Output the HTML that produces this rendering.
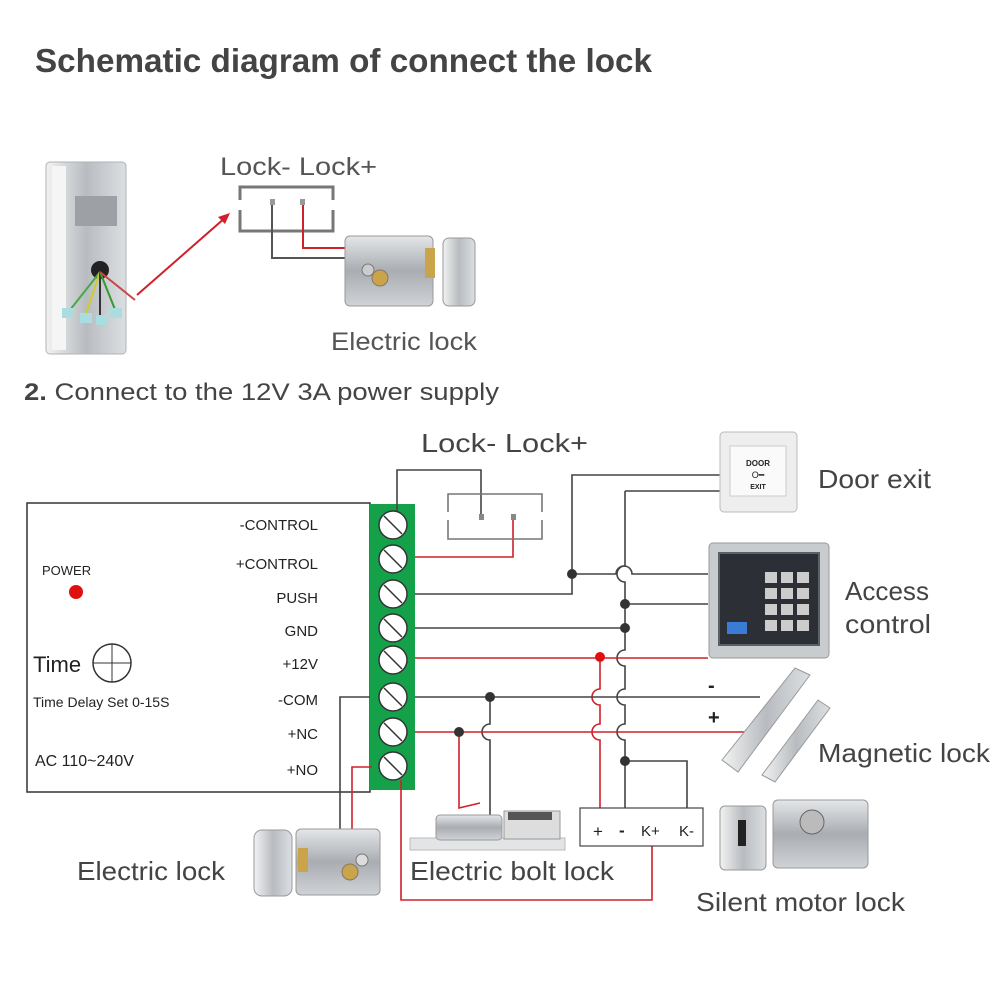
<!DOCTYPE html>
<html><head><meta charset="utf-8"><style>
html,body{margin:0;padding:0;background:#fff;}
svg{display:block;font-family:"Liberation Sans",Arial,sans-serif;}
</style></head><body>
<svg width="1000" height="1008" viewBox="0 0 1000 1008" xmlns="http://www.w3.org/2000/svg">
<defs>
<linearGradient id="steel" x1="0" y1="0" x2="0" y2="1"><stop offset="0" stop-color="#e4e6e8"/><stop offset="0.5" stop-color="#a9adb2"/><stop offset="1" stop-color="#d0d3d6"/></linearGradient>
<linearGradient id="steel2" x1="0" y1="0" x2="1" y2="0"><stop offset="0" stop-color="#f2f2f2"/><stop offset="0.5" stop-color="#b8bcc0"/><stop offset="1" stop-color="#dcdfe2"/></linearGradient>
</defs>
<text x="35" y="72" font-size="33" font-weight="bold" fill="#444" textLength="617" lengthAdjust="spacingAndGlyphs">Schematic diagram of connect the lock</text>

<!-- top device -->
<rect x="46" y="162" width="80" height="192" rx="4" fill="url(#steel2)" stroke="#b0b3b6"/>
<rect x="52" y="166" width="14" height="184" fill="#f5f5f5"/>
<rect x="75" y="196" width="42" height="30" fill="#9da1a5"/>
<circle cx="100" cy="270" r="9" fill="#222"/>
<g stroke-width="2"><line x1="100" y1="272" x2="70" y2="310" stroke="#4a4"/><line x1="100" y1="272" x2="86" y2="314" stroke="#cc3"/><line x1="100" y1="272" x2="100" y2="318" stroke="#333"/><line x1="100" y1="272" x2="116" y2="312" stroke="#393"/><line x1="100" y1="272" x2="135" y2="300" stroke="#c44"/></g>
<g fill="#a9dde0"><rect x="62" y="308" width="12" height="10"/><rect x="80" y="313" width="12" height="10"/><rect x="96" y="315" width="12" height="10"/><rect x="110" y="308" width="12" height="10"/></g>
<line x1="137" y1="295" x2="226" y2="217" stroke="#d0202a" stroke-width="2"/>
<polygon points="230,213 218,217 225,224" fill="#d0202a"/>
<text x="220" y="175" font-size="25" fill="#555" textLength="157" lengthAdjust="spacingAndGlyphs">Lock- Lock+</text>
<g stroke="#777" stroke-width="3" fill="none"><path d="M240 200 V187 H333 V200"/><path d="M240 210 V231 H333 V210"/></g>
<rect x="270" y="199" width="5" height="6" fill="#999"/><rect x="300" y="199" width="5" height="6" fill="#999"/>
<path d="M272 205 V258 H346" stroke="#555" stroke-width="2" fill="none"/>
<path d="M303 205 V248 H346" stroke="#d0202a" stroke-width="2" fill="none"/>
<rect x="345" y="236" width="88" height="70" rx="5" fill="url(#steel)" stroke="#999"/>
<circle cx="368" cy="270" r="6" fill="#ccc" stroke="#777"/><circle cx="380" cy="278" r="8" fill="#c9a44a" stroke="#876"/>
<rect x="425" y="248" width="10" height="30" fill="#c9a44a"/>
<rect x="443" y="238" width="32" height="68" rx="6" fill="url(#steel2)" stroke="#999"/>
<text x="331" y="350" font-size="25" fill="#555" textLength="146" lengthAdjust="spacingAndGlyphs">Electric lock</text>
<text x="24" y="400" font-size="24" fill="#444" textLength="475" lengthAdjust="spacingAndGlyphs"><tspan font-weight="bold">2.</tspan> Connect to the 12V 3A power supply</text>

<!-- controller -->
<rect x="27" y="503" width="343" height="289" fill="#fff" stroke="#333" stroke-width="1.5"/>
<rect x="370" y="504" width="45" height="286" fill="#15a04a"/>
<g font-size="15" fill="#222" text-anchor="end">
<text x="318" y="530">-CONTROL</text><text x="318" y="569">+CONTROL</text><text x="318" y="603">PUSH</text><text x="318" y="636">GND</text><text x="318" y="669">+12V</text><text x="318" y="705">-COM</text><text x="318" y="739">+NC</text><text x="318" y="775">+NO</text>
</g>
<text x="42" y="575" font-size="13" fill="#222">POWER</text>
<circle cx="76" cy="592" r="7" fill="#e01010"/>
<text x="33" y="672" font-size="22" fill="#222">Time</text>
<circle cx="112" cy="663" r="19" fill="none" stroke="#333" stroke-width="1.5"/><line x1="93" y1="663" x2="131" y2="663" stroke="#333"/><line x1="112" y1="644" x2="112" y2="682" stroke="#333"/>
<text x="33" y="707" font-size="14" fill="#222">Time Delay Set 0-15S</text>
<text x="35" y="766" font-size="16" fill="#222">AC 110~240V</text>

<!-- wires -->
<g fill="none" stroke-width="1.6">
<path d="M397 512 V470 H481 V517" stroke="#444"/>
<path d="M415 557 H513 V520" stroke="#d0202a"/>
<path d="M415 594 H572 V475 H720" stroke="#444"/>
<path d="M572 574 H616 A8 8 0 0 1 632 574 H708" stroke="#444"/>
<path d="M625 491 H720 M625 491 V566 A8 8 0 0 0 625 582 V650 A8 8 0 0 0 625 666 V689 A8 8 0 0 0 625 705 V724 A8 8 0 0 0 625 740 V810" stroke="#444"/>
<path d="M625 604 H708" stroke="#444"/>
<path d="M415 628 H625" stroke="#444"/>
<path d="M625 761 H687 V810" stroke="#444"/>
<path d="M415 658 H708" stroke="#d0202a"/>
<path d="M600 657 V689 A8 8 0 0 0 600 705 V724 A8 8 0 0 0 600 740 V810" stroke="#d0202a"/>
<path d="M415 697 H760" stroke="#444"/>
<path d="M490 697 V724 A8 8 0 0 0 490 740 V815" stroke="#444"/>
<path d="M370 697 H340 V840" stroke="#444"/>
<path d="M415 732 H760" stroke="#d0202a"/>
<path d="M459 732 V808 L480 803" stroke="#d0202a"/>
<path d="M372 767 H352 V840" stroke="#d0202a"/>
<path d="M401 780 V900 H652 V845" stroke="#d0202a"/>
</g>
<g fill="#333"><circle cx="572" cy="574" r="5"/><circle cx="625" cy="604" r="5"/><circle cx="625" cy="628" r="5"/><circle cx="490" cy="697" r="5"/><circle cx="459" cy="732" r="5"/><circle cx="625" cy="761" r="5"/></g>
<circle cx="600" cy="657" r="5" fill="#e01010"/>
<!-- screws -->
<g stroke="#333" stroke-width="1.5">
<g fill="#fff"><circle cx="393" cy="525" r="14"/><circle cx="393" cy="559" r="14"/><circle cx="393" cy="594" r="14"/><circle cx="393" cy="628" r="14"/><circle cx="393" cy="660" r="14"/><circle cx="393" cy="697" r="14"/><circle cx="393" cy="732" r="14"/><circle cx="393" cy="766" r="14"/></g>
<line x1="384" y1="516" x2="402" y2="534"/><line x1="384" y1="550" x2="402" y2="568"/><line x1="384" y1="585" x2="402" y2="603"/><line x1="384" y1="619" x2="402" y2="637"/><line x1="384" y1="651" x2="402" y2="669"/><line x1="384" y1="688" x2="402" y2="706"/><line x1="384" y1="723" x2="402" y2="741"/><line x1="384" y1="757" x2="402" y2="775"/>
</g>

<!-- lock bracket mid -->
<text x="421" y="452" font-size="26" fill="#444" textLength="167" lengthAdjust="spacingAndGlyphs">Lock-  Lock+</text>
<g stroke="#777" stroke-width="1.6" fill="none"><path d="M448 512 V494 H542 V512"/><path d="M448 520 V539 H542 V520"/></g>
<rect x="479" y="514" width="5" height="6" fill="#888"/><rect x="511" y="514" width="5" height="6" fill="#888"/>

<!-- door exit -->
<rect x="720" y="432" width="77" height="80" rx="4" fill="#eee" stroke="#bbb"/>
<rect x="730" y="446" width="56" height="50" fill="#fafafa" stroke="#ccc"/>
<text x="758" y="466" font-size="8" text-anchor="middle" fill="#222" font-weight="bold">DOOR</text>
<text x="758" y="478" font-size="9" text-anchor="middle" fill="#222">O━</text>
<text x="758" y="489" font-size="7" text-anchor="middle" fill="#222" font-weight="bold">EXIT</text>
<text x="818" y="488" font-size="26" fill="#444" textLength="113" lengthAdjust="spacingAndGlyphs">Door exit</text>

<!-- keypad -->
<rect x="709" y="543" width="120" height="115" rx="4" fill="#c8cccf" stroke="#999"/>
<rect x="718" y="552" width="102" height="94" fill="#5a6068"/>
<rect x="720" y="554" width="98" height="90" fill="#2c3036"/>
<g fill="#ccc"><rect x="765" y="572" width="12" height="11"/><rect x="781" y="572" width="12" height="11"/><rect x="797" y="572" width="12" height="11"/><rect x="765" y="588" width="12" height="11"/><rect x="781" y="588" width="12" height="11"/><rect x="797" y="588" width="12" height="11"/><rect x="765" y="604" width="12" height="11"/><rect x="781" y="604" width="12" height="11"/><rect x="797" y="604" width="12" height="11"/><rect x="765" y="620" width="12" height="11"/><rect x="781" y="620" width="12" height="11"/><rect x="797" y="620" width="12" height="11"/></g>
<rect x="727" y="622" width="20" height="12" fill="#3a7bd5"/>
<text x="845" y="600" font-size="26" fill="#444" textLength="84" lengthAdjust="spacingAndGlyphs">Access</text>
<text x="845" y="633" font-size="26" fill="#444" textLength="86" lengthAdjust="spacingAndGlyphs">control</text>

<!-- magnetic lock -->
<text x="708" y="692" font-size="20" fill="#222" font-weight="bold">-</text>
<text x="708" y="724" font-size="20" fill="#222" font-weight="bold">+</text>
<polygon points="722,760 795,668 810,675 738,772" fill="url(#steel2)" stroke="#999"/>
<polygon points="762,775 818,700 830,708 775,782" fill="url(#steel2)" stroke="#999"/>
<text x="818" y="762" font-size="26" fill="#444" textLength="172" lengthAdjust="spacingAndGlyphs">Magnetic lock</text>

<!-- +/- box -->
<rect x="580" y="808" width="123" height="38" fill="#fff" stroke="#444" stroke-width="1.2"/>
<text x="593" y="837" font-size="17" fill="#222">+</text>
<text x="619" y="836" font-size="17" fill="#222" font-weight="bold">-</text>
<text x="641" y="836" font-size="15" fill="#222">K+</text>
<text x="679" y="836" font-size="15" fill="#222">K-</text>

<!-- silent motor lock -->
<rect x="720" y="806" width="46" height="64" rx="5" fill="url(#steel2)" stroke="#999"/>
<rect x="738" y="820" width="8" height="26" fill="#222"/>
<rect x="773" y="800" width="95" height="68" rx="5" fill="url(#steel)" stroke="#999"/>
<circle cx="812" cy="822" r="12" fill="#bbb" stroke="#666"/>
<text x="696" y="911" font-size="26" fill="#444" textLength="209" lengthAdjust="spacingAndGlyphs">Silent motor lock</text>

<!-- bolt lock -->
<rect x="410" y="838" width="155" height="12" fill="#e2e4e6" stroke="#bbb"/>
<rect x="436" y="815" width="66" height="25" rx="4" fill="url(#steel)" stroke="#999"/>
<rect x="504" y="811" width="56" height="28" fill="#ddd" stroke="#999"/>
<rect x="508" y="812" width="44" height="8" fill="#555"/>
<text x="410" y="880" font-size="26" fill="#444" textLength="204" lengthAdjust="spacingAndGlyphs">Electric bolt lock</text>

<!-- bottom electric lock -->
<rect x="254" y="830" width="38" height="66" rx="8" fill="url(#steel2)" stroke="#999"/>
<rect x="296" y="829" width="84" height="66" rx="5" fill="url(#steel)" stroke="#999"/>
<rect x="298" y="848" width="10" height="24" fill="#c9a44a"/>
<circle cx="350" cy="872" r="8" fill="#c9a44a" stroke="#876"/><circle cx="362" cy="860" r="6" fill="#ddd" stroke="#777"/>
<text x="77" y="880" font-size="26" fill="#444" textLength="148" lengthAdjust="spacingAndGlyphs">Electric lock</text>
</svg>
</body></html>
